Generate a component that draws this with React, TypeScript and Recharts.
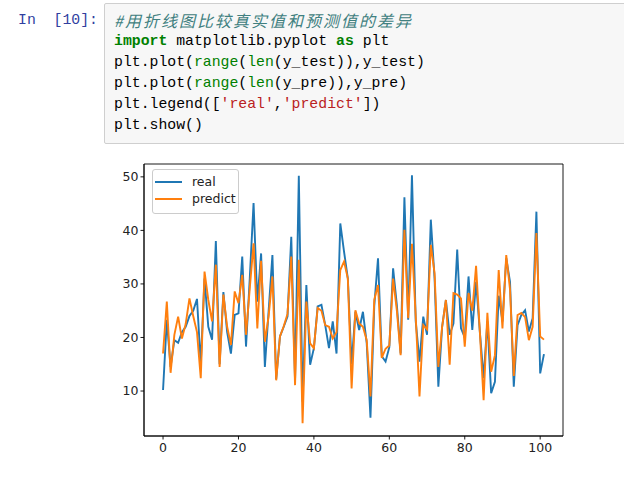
import React from "react";
import {
  LineChart,
  Line,
  XAxis,
  YAxis,
  Legend,
  ReferenceArea,
} from "recharts";

// 真实值 y_test
const realValues = [
  10.2, 23.3, 14.5, 19.5, 19.0, 21.0, 22.0, 24.0, 25.0, 27.2,
  15.0, 31.0, 22.0, 19.6, 38.0, 15.0, 28.5, 21.0, 17.0, 24.2,
  24.5, 35.1, 18.3, 31.1, 45.1, 26.7, 35.7, 14.5, 25.0, 35.4,
  12.2, 20.2, 22.0, 23.9, 38.8, 12.0, 50.2, 8.0, 29.8, 14.9,
  18.0, 25.8, 26.1, 22.3, 18.0, 23.0, 17.0, 41.3, 36.0, 31.0,
  15.0, 24.8, 21.4, 24.8, 19.0, 5.0, 25.8, 34.8, 16.5, 15.5,
  18.2, 32.9, 26.0, 17.0, 46.2, 23.3, 50.3, 23.0, 15.5, 23.9,
  20.5, 42.0, 31.0, 10.8, 22.0, 27.0, 20.5, 22.6, 36.4, 21.7,
  20.0, 31.4, 21.4, 30.4, 21.1, 12.4, 23.0, 9.6, 11.7, 27.8,
  23.0, 34.8, 30.4, 10.8, 22.3, 24.2, 25.1, 21.1, 23.6, 43.5,
  13.3, 16.9,
];

// 预测值 y_pre
const predValues = [
  17.0, 26.7, 13.4, 20.5, 23.9, 19.8, 22.5, 27.3, 24.0, 21.0,
  12.4, 32.3, 27.0, 23.0, 33.6, 14.5, 28.0, 22.0, 18.6, 28.6,
  26.4, 31.7, 20.5, 29.2, 37.6, 21.7, 34.3, 19.2, 24.0, 31.4,
  12.0, 20.2, 22.1, 24.4, 35.1, 11.1, 34.5, 4.0, 26.7, 18.9,
  18.0, 25.5, 25.0, 22.3, 22.0, 19.8, 21.0, 32.6, 34.2, 31.0,
  10.5, 25.1, 22.6, 22.0, 19.5, 9.0, 27.0, 29.8, 16.2, 17.9,
  18.5, 31.0, 25.0, 16.7, 40.1, 23.6, 37.5, 23.9, 9.0, 22.3,
  21.5, 37.3, 32.0, 14.5, 22.0, 27.0, 14.9, 28.3, 28.0, 27.3,
  18.3, 28.3, 25.0, 33.4, 21.1, 8.3, 24.6, 13.6, 16.7, 32.6,
  21.7, 35.4, 29.0, 12.8, 24.2, 24.6, 23.8, 19.5, 22.0, 39.5,
  20.2, 19.6,
];

const xTicks = [0, 20, 40, 60, 80, 100];
const yTicks = [10, 20, 30, 40, 50];
const legendNames = ["real", "predict"];
const colors = ["#1f77b4", "#ff7f0e"];

const data = realValues.map((v, i) => ({
  idx: i,
  real: v,
  predict: predValues[i],
}));

const xDomain = [-5.05, 106.05];
const yDomain = [1.6, 52.4];

const mono = '"Liberation Mono", "DejaVu Sans Mono", monospace';
const cjk = '"Noto Sans CJK SC", sans-serif';

const green = { color: "#008000" };
const kw = { color: "#008000", fontWeight: "bold" as const };
const str = { color: "#BA2121" };

// 代码行
const codeLines: React.ReactNode[] = [
  <span
    style={{
      color: "#408080",
      fontStyle: "italic",
      fontFamily: cjk,
      fontSize: 16,
      letterSpacing: 2,
    }}
  >
    #用折线图比较真实值和预测值的差异
  </span>,
  <>
    <span style={kw}>import</span> matplotlib.pyplot <span style={kw}>as</span>{" "}
    plt
  </>,
  <>
    plt.plot(<span style={green}>range</span>(<span style={green}>len</span>
    (y_test)),y_test)
  </>,
  <>
    plt.plot(<span style={green}>range</span>(<span style={green}>len</span>
    (y_pre)),y_pre)
  </>,
  <>
    plt.legend([<span style={str}>'real'</span>,
    <span style={str}>'predict'</span>])
  </>,
  <>plt.show()</>,
];

// 图例（matplotlib 风格）
const renderLegend = () => (
  <div
    style={{
      width: 85,
      height: 40,
      border: "1px solid #cccccc",
      borderRadius: 3,
      background: "rgba(255,255,255,0.8)",
      paddingTop: 2.9,
      boxSizing: "content-box",
      fontFamily: '"DejaVu Sans", sans-serif',
      fontSize: 12.5,
      color: "#222",
    }}
  >
    {legendNames.map((name, i) => (
      <div
        key={name}
        style={{ display: "flex", alignItems: "center", height: 17.6 }}
      >
        <div
          style={{
            marginLeft: 2.5,
            width: 27,
            height: 1.9,
            background: colors[i],
          }}
        />
        <span style={{ marginLeft: 10, lineHeight: "17.6px" }}>{name}</span>
      </div>
    ))}
  </div>
);

const App: React.FC = () => {
  const tickStyle = {
    fontSize: 12.5,
    fill: "#222",
    fontFamily: '"DejaVu Sans", sans-serif',
  };

  return (
    <div
      style={{
        position: "absolute",
        left: 0,
        top: 0,
        width: 624,
        height: 490,
        background: "#fff",
        overflow: "hidden",
      }}
    >
      {/* 输入提示符 */}
      <div
        style={{
          position: "absolute",
          left: 18,
          top: 10,
          height: 21,
          fontFamily: mono,
          fontSize: 14.8,
          lineHeight: "21px",
          color: "#303F9F",
          whiteSpace: "pre",
        }}
      >
        {"In  [10]:"}
      </div>

      {/* 代码单元格 */}
      <div
        style={{
          position: "absolute",
          left: 104,
          top: 3,
          width: 540,
          height: 139,
          background: "#f7f7f7",
          border: "1px solid #cfcfcf",
          borderRadius: 2,
        }}
      >
        <div
          style={{
            position: "absolute",
            left: 9,
            top: 6,
            fontFamily: mono,
            fontSize: 14.8,
            color: "#000",
          }}
        >
          {codeLines.map((line, i) => (
            <div
              key={i}
              style={{
                height: 21.1,
                lineHeight: "21px",
                whiteSpace: "pre",
                overflow: "visible",
              }}
            >
              {line}
            </div>
          ))}
        </div>
      </div>

      {/* 折线图 */}
      <div style={{ position: "absolute", left: 100, top: 150 }}>
        <LineChart
          width={500}
          height={320}
          data={data}
          margin={{ top: 14, right: 37, bottom: 4, left: 4 }}
        >
          <XAxis
            dataKey="idx"
            type="number"
            domain={xDomain}
            ticks={xTicks}
            allowDataOverflow
            height={30}
            tickSize={3.5}
            tickMargin={4}
            tick={tickStyle}
            axisLine={{ stroke: "#000", strokeWidth: 0.9 }}
            tickLine={{ stroke: "#000", strokeWidth: 0.9 }}
          />
          <YAxis
            type="number"
            domain={yDomain}
            ticks={yTicks}
            allowDataOverflow
            width={40}
            tickSize={3.5}
            tickMargin={2}
            tick={tickStyle}
            axisLine={{ stroke: "#000", strokeWidth: 0.9 }}
            tickLine={{ stroke: "#000", strokeWidth: 0.9 }}
          />
          <ReferenceArea
            x1={xDomain[0]}
            x2={xDomain[1]}
            y1={yDomain[0]}
            y2={yDomain[1]}
            fill="none"
            stroke="#000"
            strokeWidth={0.9}
            ifOverflow="visible"
          />
          <Line
            type="linear"
            dataKey="real"
            stroke={colors[0]}
            strokeWidth={1.9}
            dot={false}
            activeDot={false}
            isAnimationActive={false}
          />
          <Line
            type="linear"
            dataKey="predict"
            stroke={colors[1]}
            strokeWidth={1.9}
            dot={false}
            activeDot={false}
            isAnimationActive={false}
          />
          <Legend
            layout="horizontal"
            verticalAlign="middle"
            align="center"
            wrapperStyle={{ left: 51.5, top: 19, width: 87, height: 42 }}
            content={renderLegend}
          />
        </LineChart>
      </div>
    </div>
  );
};

export default App;
